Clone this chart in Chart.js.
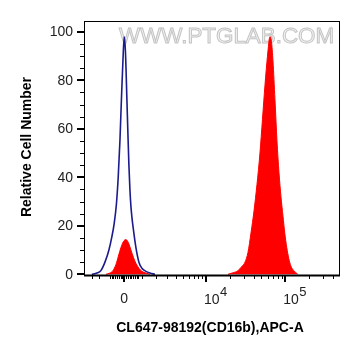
<!DOCTYPE html>
<html><head><meta charset="utf-8">
<script src="https://cdn.jsdelivr.net/npm/chart.js@4/dist/chart.umd.min.js"></script>
<style>html,body{margin:0;padding:0;background:#fff}canvas{display:block}</style>
</head><body>
<canvas id="c" width="361" height="356"></canvas>
<script>
// ---- data (fluorescence intensity, relative cell count) ----
const controlX = [-2040,-1660,-1380,-1110,-866,-690,-556,-431,-331,-236,-154,-71,0,66,148,203,258,314,370,426,499,654,830,1013,1269,1542,1913];
const controlY = [0,0.5,1.5,5,10,15.5,21,29,40,55,72,88,98,92,72,58,45,35,28,23.5,19,11,5,2.5,1.2,0.5,0];

const negPeakX = [-1050,-806,-631,-459,-320,-181,-44,93,231,370,510,654,830,1013,1269,1542];
const negPeakY = [0,0.5,1.5,4,7.5,11,13.5,14.3,13,10,7,4.5,2.5,1.2,0.5,0];

const posPeakX = [19000,21970,25420,28540,31140,33960,37050,40400,44070,48070,51690,55570,59740,64230,67080,70060,74230,78660,83350,88320,93580,98580,104460,110690,117290,127920,143630];
const posPeakY = [0,0.6,1.5,3.3,5,9,17,26,37,50,64,78,90,98,96,88,72,55,42,32,24,17,11,6.5,3.5,1.5,0];

const yTickValues = [0,20,40,60,80,100];
const yTickLabels = ['0','20','40','60','80','100'];
const yMinorValues = [5,10,15,25,30,35,45,50,55,65,70,75,85,90,95];

const xMajorValues = [0,10000,100000];
const xMajorBase = ['0','10','10'];
const xMajorExp = ['','4','5'];
const xMinorValues = [-2000,-1500,-800,-700,-600,-500,-400,-300,-200,-100,100,200,300,400,500,600,700,800,1000,2000,3000,4000,5000,6000,7000,8000,9000,20000,30000,40000,50000,60000,70000,80000,90000,200000,300000,400000];

const xRange = [-2736, 487200];
const yRange = [-0.3, 104.5];
const xTitle = 'CL647-98192(CD16b),APC-A';
const yTitle = 'Relative Cell Number';
const watermark = 'WWW.PTGLAB.COM';

// biexponential-like display transform
const C = 1894;
const T = v => Math.asinh(v / C);
const pts = (xs, ys) => xs.map((v, i) => ({x: T(v), y: ys[i]}));

const FONT = '"Liberation Sans", Arial, sans-serif';

const decor = {
  id: 'decor',
  beforeDatasetsDraw(chart) {
    const ctx = chart.ctx;
    ctx.save();
    ctx.font = '22.4px ' + FONT;
    ctx.textAlign = 'left';
    ctx.textBaseline = 'alphabetic';
    ctx.fillStyle = '#f3f3f3';
    ctx.strokeStyle = '#c4c4c4';
    ctx.lineWidth = 1;
    ctx.fillText(watermark, 119, 43);
    ctx.strokeText(watermark, 119, 43);
    ctx.restore();
  },
  afterDraw(chart) {
    const ctx = chart.ctx, xs = chart.scales.x, ys = chart.scales.y, a = chart.chartArea;
    ctx.save();
    ctx.strokeStyle = '#000';
    // frame
    ctx.lineWidth = 1;
    ctx.strokeRect(a.left + 0.5, a.top + 0.5, a.right - a.left - 1, a.bottom - a.top);
    ctx.lineWidth = 2;
    ctx.beginPath(); ctx.moveTo(a.left, a.bottom + 0.5); ctx.lineTo(a.right, a.bottom + 0.5); ctx.stroke();
    // y ticks
    ctx.lineWidth = 2;
    yTickValues.forEach(v => {
      const y = Math.round(ys.getPixelForValue(v));
      ctx.beginPath(); ctx.moveTo(a.left - 7, y); ctx.lineTo(a.left, y); ctx.stroke();
    });
    ctx.lineWidth = 1;
    yMinorValues.forEach(v => {
      const y = Math.round(ys.getPixelForValue(v)) + 0.5;
      ctx.beginPath(); ctx.moveTo(a.left - 4, y); ctx.lineTo(a.left, y); ctx.stroke();
    });
    // x ticks
    ctx.lineWidth = 2;
    xMajorValues.forEach(v => {
      const x = Math.round(xs.getPixelForValue(T(v)));
      ctx.beginPath(); ctx.moveTo(x, a.bottom); ctx.lineTo(x, a.bottom + 7); ctx.stroke();
    });
    ctx.lineWidth = 1;
    xMinorValues.forEach(v => {
      const x = Math.round(xs.getPixelForValue(T(v))) + 0.5;
      if (x < a.left || x > a.right) return;
      ctx.beginPath(); ctx.moveTo(x, a.bottom); ctx.lineTo(x, a.bottom + 4); ctx.stroke();
    });
    // y labels
    ctx.fillStyle = '#222';
    ctx.font = '14px ' + FONT;
    ctx.textAlign = 'right';
    ctx.textBaseline = 'middle';
    yTickValues.forEach((v, i) => {
      ctx.fillText(yTickLabels[i], a.left - 11, ys.getPixelForValue(v) + 0.5);
    });
    // x labels
    ctx.textBaseline = 'alphabetic';
    xMajorValues.forEach((v, i) => {
      const x = xs.getPixelForValue(T(v));
      ctx.font = '14px ' + FONT;
      if (!xMajorExp[i]) {
        ctx.textAlign = 'center';
        ctx.fillText(xMajorBase[i], x, 303);
      } else {
        ctx.textAlign = 'left';
        ctx.fillText(xMajorBase[i], x - 2, 303.5);
        const w = ctx.measureText(xMajorBase[i]).width;
        ctx.font = '13px ' + FONT;
        ctx.fillText(xMajorExp[i], x - 2 + w + 0.5, 295.5);
      }
    });
    // titles
    ctx.fillStyle = '#000';
    ctx.font = 'bold 14px ' + FONT;
    ctx.textAlign = 'center';
    ctx.textBaseline = 'middle';
    ctx.fillText(xTitle, (a.left + a.right) / 2 - 2, 328);
    ctx.translate(27, (a.top + a.bottom) / 2 - 1);
    ctx.rotate(-Math.PI / 2);
    ctx.fillText(yTitle, 0, 0);
    ctx.restore();
  }
};

new Chart(document.getElementById('c'), {
  type: 'line',
  data: {
    datasets: [
      { data: pts(controlX, controlY), borderColor: '#1b1b8c', borderWidth: 1.6, fill: false, order: 0, cubicInterpolationMode: 'monotone' },
      { data: pts(negPeakX, negPeakY), borderColor: '#ff0000', backgroundColor: '#ff0000', borderWidth: 1, fill: 'origin', order: 1, cubicInterpolationMode: 'monotone' },
      { data: pts(posPeakX, posPeakY), borderColor: '#ff0000', backgroundColor: '#ff0000', borderWidth: 1, fill: 'origin', order: 1, cubicInterpolationMode: 'monotone' }
    ]
  },
  options: {
    responsive: false,
    devicePixelRatio: 1,
    animation: false,
    layout: { padding: { left: 84, right: 21, top: 21, bottom: 81 } },
    elements: { point: { radius: 0, hoverRadius: 0 } },
    plugins: { legend: { display: false }, tooltip: { enabled: false } },
    events: [],
    scales: {
      x: { type: 'linear', display: false, min: T(xRange[0]), max: T(xRange[1]) },
      y: { type: 'linear', display: false, min: yRange[0], max: yRange[1] }
    }
  },
  plugins: [decor]
});
</script>
</body></html>
